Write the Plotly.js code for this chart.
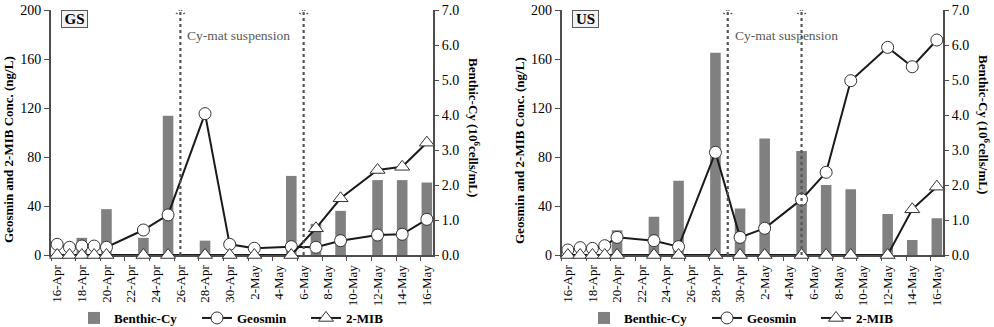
<!DOCTYPE html>
<html><head><meta charset="utf-8">
<script src="https://cdn.plot.ly/plotly-3.0.1.min.js"></script>
<style>html,body{margin:0;padding:0;background:#fff}#chart{width:994px;height:327px}</style>
</head><body><div id="chart"></div>
<script>
// ---------- data ----------
const sampleDates = ['2017-04-16','2017-04-17','2017-04-18','2017-04-19','2017-04-20','2017-04-23','2017-04-25','2017-04-28','2017-04-30','2017-05-02','2017-05-05','2017-05-07','2017-05-09','2017-05-12','2017-05-14','2017-05-16'];
const tickDates = ['2017-04-16','2017-04-18','2017-04-20','2017-04-22','2017-04-24','2017-04-26','2017-04-28','2017-04-30','2017-05-02','2017-05-04','2017-05-06','2017-05-08','2017-05-10','2017-05-12','2017-05-14','2017-05-16'];
const tickLabels = ['16-Apr','18-Apr','20-Apr','22-Apr','24-Apr','26-Apr','28-Apr','30-Apr','2-May','4-May','6-May','8-May','10-May','12-May','14-May','16-May'];

const gsBenthicCy = [0,0,0.49,0,1.31,0.49,3.98,0.41,0,0,2.26,0.89,1.26,2.14,2.14,2.07];
const gsGeosmin   = [8.7,6.3,7.3,7.3,6.3,20.4,32.7,115.4,8.7,5.5,6.8,6.3,11.7,16.3,16.9,29.1];
const gsMIB       = [0,0,0,0,0,0,0,0,0,0,0,21.8,46.3,69.4,72.0,91.7];

const usBenthicCy = [0,0,0,0,0.71,1.09,2.12,5.78,1.33,3.33,2.97,2.00,1.88,1.17,0.43,1.05];
const usGeosmin   = [4.1,6.0,5.4,7.6,14.4,11.7,6.8,83.8,14.4,21.8,45.4,67.5,142.3,169.5,153.7,175.5];
const usMIB       = [0,0,0,0,0,0,0,0,0,0,0,0,0,0,37.3,55.8];

const gsSuspension = ['2017-04-26','2017-05-06'];
const usSuspension = ['2017-04-29','2017-05-05'];

// ---------- styling ----------
const SERIF = 'Liberation Serif, Times New Roman, serif';
const AXC = '#4d4d4d';
const DAY = 86400000;
const W = 994, H = 327;
const TOP = 10, BOT = 255;                 // plot area top / bottom in px
const PH = BOT - TOP;
const py = p => (BOT - p) / PH;            // pixel row -> paper fraction
const gsDom = [51/W, 433/W];
const usDom = [561.7/W, 943/W];

function shiftDate(s, days){ return new Date(new Date(s+'T00:00:00Z').getTime()+days*DAY).toISOString().slice(0,19).replace('T',' '); }
const xRange = [shiftDate(tickDates[0], -0.5), shiftDate(tickDates[tickDates.length-1], 0.5)];
const minorVals = tickDates.map(d => shiftDate(d, -0.5));

function xAxis(dom, anchor){
  return {type:'date', domain:dom, anchor:anchor, range:xRange, layer:'below traces',
    tickmode:'array', tickvals:tickDates, ticktext:tickLabels, tickangle:-90,
    ticks:'', showgrid:false, zeroline:false, showline:true, linecolor:AXC, linewidth:2,
    tickfont:{family:SERIF, size:13, color:'#000'}, ticklabelstandoff:3,
    minor:{tickvals:minorVals, ticks:'outside', ticklen:4, tickwidth:1, tickcolor:AXC, showgrid:false},
    fixedrange:true};
}
function rightAxis(anchor){
  return {domain:[0,1], anchor:anchor, side:'right', range:[0,7], dtick:1, tick0:0, tickformat:'.1f', layer:'below traces',
    ticks:'outside', ticklen:4, tickwidth:1, tickcolor:AXC, showgrid:false, zeroline:false,
    showline:true, linecolor:AXC, linewidth:2, tickfont:{family:SERIF, size:14, color:'#000'}, fixedrange:true};
}
function leftAxis(anchor, over){
  return {overlaying:over, anchor:anchor, side:'left', range:[0,200], dtick:40, tick0:0, layer:'below traces',
    ticks:'outside', ticklen:5, tickwidth:1, tickcolor:AXC, showgrid:false, zeroline:false,
    showline:true, linecolor:AXC, linewidth:2, tickfont:{family:SERIF, size:14, color:'#000'}, fixedrange:true};
}

function panelTraces(bars, geo, mib, xa, yBar, yLine, leg){
  return [
    {type:'bar', name:'Benthic-Cy', x:sampleDates, y:bars, xaxis:xa, yaxis:yBar, width:0.86*DAY,
     marker:{color:'#808080', line:{width:0}}, cliponaxis:false, legend:leg, legendwidth:78},
    {type:'scatter', mode:'lines+markers', name:'Geosmin', x:sampleDates, y:geo, xaxis:xa, yaxis:yLine,
     line:{color:'#1a1a1a', width:2}, marker:{symbol:'circle', size:12, color:'#fff', line:{color:'#333', width:1}},
     cliponaxis:false, legend:leg, legendwidth:64},
    {type:'scatter', mode:'lines+markers', name:'2-MIB', x:sampleDates, y:mib, xaxis:xa, yaxis:yLine,
     line:{color:'#1a1a1a', width:2}, marker:{symbol:'triangle-up', size:13, color:'#fff', line:{color:'#333', width:1}},
     cliponaxis:false, legend:leg}
  ];
}

const data = [
  ...panelTraces(gsBenthicCy, gsGeosmin, gsMIB, 'x', 'y', 'y2', 'legend'),
  ...panelTraces(usBenthicCy, usGeosmin, usMIB, 'x2', 'y3', 'y4', 'legend2')
];

function suspensionShapes(dates, xa, ya){
  const out = [];
  dates.forEach(d => {
    out.push({type:'line', xref:xa, yref:ya, x0:d, x1:d, y0:0, y1:201.6, layer:'above',
      line:{color:'#555', width:2.2, dash:'dot'}});
    [-1,1].forEach(s => out.push({type:'line', xref:xa, yref:ya, xsizemode:'pixel', ysizemode:'pixel',
      xanchor:d, yanchor:201.6, x0:0, x1:s*4, y0:0, y1:-6, layer:'above',
      line:{color:'#555', width:2, dash:'dot'}}));
  });
  return out;
}

function boxLabel(text, cx){
  return {text:'<b>'+text+'</b>', xref:'paper', yref:'paper', x:cx/W, y:py(19), xanchor:'center', yanchor:'middle',
    showarrow:false, font:{family:SERIF, size:15, color:'#000'}, bgcolor:'#f2f2f2', bordercolor:'#595959',
    borderwidth:1, borderpad:0, width:25, height:16};
}
function axisTitle(text, cx, cy, ang){
  return {text:'<b>'+text+'</b>', xref:'paper', yref:'paper', x:cx/W, y:py(cy), xanchor:'center', yanchor:'middle',
    showarrow:false, textangle:ang, font:{family:SERIF, size:13, color:'#000'}};
}
function suspLabel(date, xa){
  return {text:'Cy-mat suspension', xref:xa, yref:'paper', x:date, y:py(35), xanchor:'left', yanchor:'middle',
    xshift:5, showarrow:false, font:{family:SERIF, size:13.5, color:'#595959'}};
}

const legendBase = {orientation:'h', xanchor:'left', yanchor:'middle', y:py(318), bgcolor:'rgba(0,0,0,0)',
  font:{family:SERIF, size:13, color:'#000', weight:'bold'}, itemwidth:30, tracegroupgap:0};

const layout = {
  width:W, height:H, margin:{l:0, r:0, t:TOP, b:H-BOT, autoexpand:false}, paper_bgcolor:'#fff', plot_bgcolor:'rgba(0,0,0,0)',
  showlegend:true, hovermode:false, barmode:'overlay',
  xaxis:xAxis(gsDom, 'y'), yaxis:rightAxis('x'), yaxis2:leftAxis('x', 'y'),
  xaxis2:xAxis(usDom, 'y3'), yaxis3:rightAxis('x2'), yaxis4:leftAxis('x2', 'y3'),
  legend:Object.assign({}, legendBase, {x:74/W}),
  legend2:Object.assign({}, legendBase, {x:584/W}),
  shapes:[...suspensionShapes(gsSuspension, 'x', 'y2'), ...suspensionShapes(usSuspension, 'x2', 'y4')],
  annotations:[
    boxLabel('GS', 74.5), boxLabel('US', 585.3),
    axisTitle('Geosmin and 2-MIB Conc. (ng/L)', 8, 150, -90),
    axisTitle('Geosmin and 2-MIB Conc. (ng/L)', 519, 151, -90),
    axisTitle('Benthic-Cy (10<sup>6</sup>cells/mL)', 474, 127, 90),
    axisTitle('Benthic-Cy (10<sup>6</sup>cells/mL)', 984, 124, 90),
    suspLabel(gsSuspension[0], 'x'), suspLabel(usSuspension[0], 'x2')
  ]
};

Plotly.newPlot('chart', data, layout, {staticPlot:true, displayModeBar:false});
</script></body></html>
